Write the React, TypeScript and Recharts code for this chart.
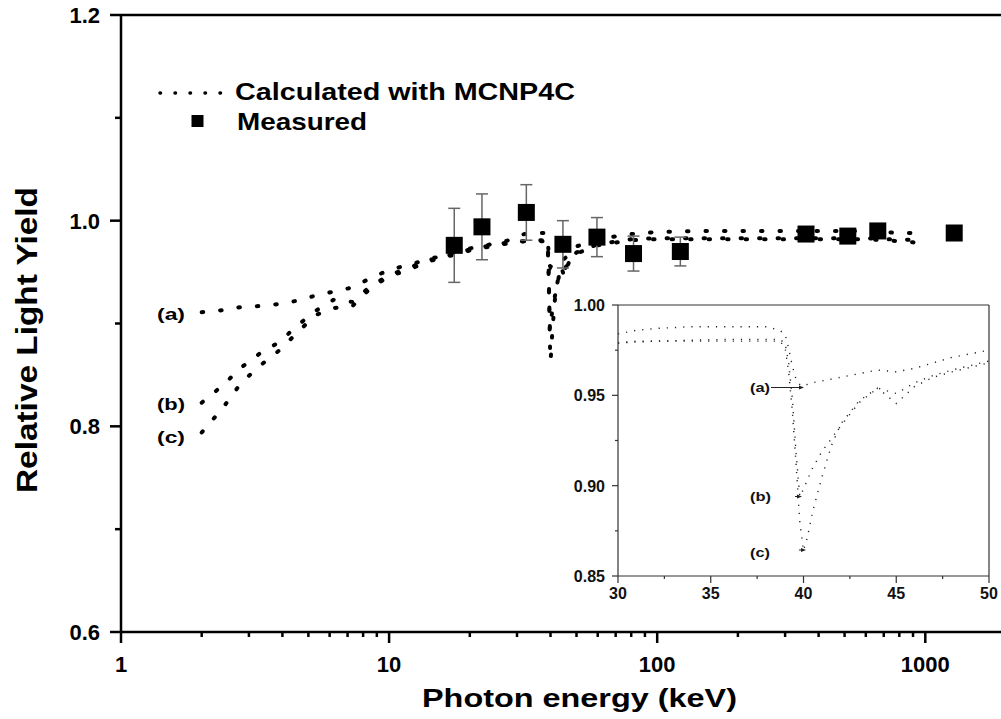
import React from 'react';
import { ComposedChart, LineChart, Line, Scatter, ErrorBar, XAxis, YAxis, ReferenceLine } from 'recharts';

const FONT = '"Liberation Sans", Arial, Helvetica, sans-serif';

// photon energies (keV) shared by the three MCNP4C curves
const ENERGY = [
  2, 2.4, 2.8, 3.3, 3.9, 4.5, 5.3, 6.2, 7.3, 8.5,
  10, 11.8, 13.8, 17, 20, 24, 28, 30, 31, 32,
  34, 36, 38, 38.7, 39, 39.2, 39.4, 39.6, 39.8, 40,
  40.2, 40.5, 41, 41.5, 42, 43, 44, 45, 46, 47,
  48, 50, 60, 80, 100, 150, 200, 300, 400, 500,
  600, 700, 800, 900, 1000,
];

// calculated relative light yield, curves (a), (b), (c)
const CURVE_A = [
  0.911, 0.913, 0.916, 0.917, 0.919, 0.922, 0.927, 0.931, 0.935, 0.944,
  0.952, 0.957, 0.962, 0.968, 0.973, 0.977, 0.981, 0.984, 0.986, 0.987,
  0.988, 0.988, 0.988, 0.986, 0.984, 0.976, 0.966, 0.959, 0.956, 0.955,
  0.956, 0.957, 0.958, 0.959, 0.96, 0.962, 0.964, 0.963, 0.965, 0.968,
  0.971, 0.975, 0.982, 0.987, 0.989, 0.99, 0.99, 0.99, 0.99, 0.99,
  0.99, 0.989, 0.988, 0.988, 0.987,
];
const CURVE_B = [
  0.823, 0.84, 0.857, 0.871, 0.882, 0.897, 0.912, 0.923, 0.921, 0.936,
  0.947, 0.954, 0.961, 0.967, 0.972, 0.976, 0.979, 0.979, 0.98, 0.98,
  0.9805, 0.981, 0.981, 0.981, 0.979, 0.968, 0.948, 0.918, 0.894, 0.898,
  0.903, 0.91, 0.919, 0.926, 0.933, 0.946, 0.954, 0.951, 0.957, 0.961,
  0.964, 0.969, 0.977, 0.982, 0.983, 0.983, 0.983, 0.983, 0.983, 0.983,
  0.983, 0.982, 0.982, 0.981, 0.98,
];
const CURVE_C = [
  0.794, 0.818, 0.842, 0.859, 0.874, 0.89, 0.908, 0.915, 0.917, 0.934,
  0.946, 0.952, 0.96, 0.966, 0.971, 0.975, 0.978, 0.979, 0.9795, 0.98,
  0.98, 0.98, 0.98, 0.98, 0.977, 0.963, 0.941, 0.912, 0.88, 0.864,
  0.871, 0.886, 0.905, 0.922, 0.934, 0.947, 0.954, 0.9455, 0.955, 0.96,
  0.963, 0.968, 0.976, 0.981, 0.982, 0.982, 0.982, 0.982, 0.982, 0.982,
  0.982, 0.981, 0.98, 0.979, 0.976,
];

// measured points
const MEAS_ENERGY = [17.5, 22.2, 32.5, 44.5, 59.6, 81.6, 122, 359, 514, 665, 1282];
const MEAS_YIELD = [0.976, 0.994, 1.008, 0.977, 0.984, 0.968, 0.97, 0.987, 0.985, 0.99, 0.988];
const MEAS_ERR = [0.036, 0.032, 0.027, 0.023, 0.019, 0.017, 0.014, 0.006, 0.006, 0.006, 0.006];

const MAIN_X_TICKS = [1, 2, 3, 4, 5, 6, 7, 8, 9, 10, 20, 30, 40, 50, 60, 70, 80, 90, 100, 200, 300, 400, 500, 600, 700, 800, 900, 1000, 2000];
const MAIN_X_LABELS = [1, 10, 100, 1000];
const MAIN_Y_TICKS = [0.6, 0.7, 0.8, 0.9, 1.0, 1.1, 1.2];
const MAIN_Y_LABELS = [0.6, 0.8, 1.0, 1.2];

const INSET_X_TICKS = [30, 32.5, 35, 37.5, 40, 42.5, 45, 47.5, 50];
const INSET_X_LABELS = [30, 35, 40, 45, 50];
const INSET_Y_TICKS = [0.85, 0.875, 0.9, 0.925, 0.95, 0.975, 1.0];
const INSET_Y_LABELS = [0.85, 0.9, 0.95, 1.0];

const curveData = ENERGY.map((e, i) => ({ e, a: CURVE_A[i], b: CURVE_B[i], c: CURVE_C[i] }));
const insetData = curveData.filter((d) => d.e >= 30 && d.e <= 50);
const measuredData = MEAS_ENERGY.map((e, i) => ({ e, y: MEAS_YIELD[i], err: MEAS_ERR[i] }));

const MainXTick = (props: any) => {
  const { x, y, payload } = props;
  const major = MAIN_X_LABELS.includes(payload.value);
  return (
    <g>
      <line x1={x} x2={x} y1={y} y2={y + (major ? 11 : 5)} stroke="#000" strokeWidth={2.5} />
      {major && (
        <text x={x} y={y + 40} textAnchor="middle" fontFamily={FONT} fontWeight="bold" fontSize={22} fill="#000">
          {payload.value}
        </text>
      )}
    </g>
  );
};

const MainYTick = (props: any) => {
  const { x, y, payload } = props;
  const major = MAIN_Y_LABELS.some((v) => Math.abs(v - payload.value) < 1e-6);
  return (
    <g>
      <line x1={x} x2={x - (major ? 11 : 6)} y1={y} y2={y} stroke="#000" strokeWidth={2.5} />
      {major && (
        <text x={x - 21} y={y + 8} textAnchor="end" fontFamily={FONT} fontWeight="bold" fontSize={22} fill="#000">
          {payload.value.toFixed(1)}
        </text>
      )}
    </g>
  );
};

const InsetXTick = (props: any) => {
  const { x, y, payload } = props;
  const major = INSET_X_LABELS.includes(payload.value);
  return (
    <g>
      <line x1={x} x2={x} y1={y} y2={y + (major ? 7 : 3)} stroke="#333" strokeWidth={1.2} />
      {major && (
        <text x={x} y={y + 23} textAnchor="middle" fontFamily={FONT} fontWeight="bold" fontSize={16} fill="#111">
          {payload.value}
        </text>
      )}
    </g>
  );
};

const InsetYTick = (props: any) => {
  const { x, y, payload } = props;
  const major = INSET_Y_LABELS.some((v) => Math.abs(v - payload.value) < 1e-6);
  return (
    <g>
      <line x1={x} x2={x - (major ? 6 : 3)} y1={y} y2={y} stroke="#333" strokeWidth={1.2} />
      {major && (
        <text x={x - 13} y={y + 6} textAnchor="end" fontFamily={FONT} fontWeight="bold" fontSize={16} fill="#111">
          {payload.value.toFixed(2)}
        </text>
      )}
    </g>
  );
};

const Square = (props: any) => {
  const { cx, cy } = props;
  return <rect x={cx - 8.5} y={cy - 8.5} width={17} height={17} fill="#000" />;
};

const mainDots = {
  stroke: '#000',
  strokeWidth: 4,
  strokeDasharray: '1.5 17',
  strokeLinecap: 'round' as const,
};

const insetDots = {
  stroke: '#222',
  strokeWidth: 1.4,
  strokeDasharray: '1.2 7',
};

export default function App() {
  return (
    <div style={{ position: 'absolute', left: 0, top: 0, width: 1001, height: 719, overflow: 'hidden', background: '#fff' }}>
      <div style={{ position: 'absolute', left: 0, top: 0 }}>
        <ComposedChart width={1010} height={719} data={curveData} margin={{ top: 15, right: 4, left: 0, bottom: 0 }}>
          <XAxis
            dataKey="e"
            type="number"
            scale="log"
            domain={[1, 2000]}
            ticks={MAIN_X_TICKS}
            interval={0}
            height={87}
            tickSize={0}
            tickMargin={0}
            tickLine={false}
            axisLine={{ stroke: '#000', strokeWidth: 2.5 }}
            tick={(p: any) => <MainXTick {...p} />}
          />
          <YAxis
            type="number"
            domain={[0.6, 1.2]}
            ticks={MAIN_Y_TICKS}
            interval={0}
            width={121}
            tickSize={0}
            tickMargin={0}
            tickLine={false}
            axisLine={{ stroke: '#000', strokeWidth: 2.5 }}
            tick={(p: any) => <MainYTick {...p} />}
          />
          <ReferenceLine y={1.2} stroke="#000" strokeWidth={2.5} />
          <Line dataKey="a" type="linear" dot={false} activeDot={false} isAnimationActive={false} {...mainDots} />
          <Line dataKey="b" type="linear" dot={false} activeDot={false} isAnimationActive={false} {...mainDots} />
          <Line dataKey="c" type="linear" dot={false} activeDot={false} isAnimationActive={false} {...mainDots} />
          <Scatter data={measuredData} dataKey="y" shape={<Square />} isAnimationActive={false}>
            <ErrorBar dataKey="err" direction="y" width={6} stroke="#666" strokeWidth={1.5} />
          </Scatter>
        </ComposedChart>
      </div>

      {/* inset: zoom on the K-edge region, 30-50 keV */}
      <div style={{ position: 'absolute', left: 568, top: 290 }}>
        <LineChart width={433} height={316} data={insetData} margin={{ top: 15, right: 12, left: 0, bottom: 0 }}>
          <XAxis
            dataKey="e"
            type="number"
            domain={[30, 50]}
            ticks={INSET_X_TICKS}
            interval={0}
            height={30}
            tickSize={0}
            tickMargin={0}
            tickLine={false}
            axisLine={{ stroke: '#333', strokeWidth: 1.2 }}
            tick={(p: any) => <InsetXTick {...p} />}
          />
          <YAxis
            type="number"
            domain={[0.85, 1.0]}
            ticks={INSET_Y_TICKS}
            interval={0}
            width={50}
            tickSize={0}
            tickMargin={0}
            tickLine={false}
            axisLine={{ stroke: '#333', strokeWidth: 1.2 }}
            tick={(p: any) => <InsetYTick {...p} />}
          />
          <ReferenceLine y={1.0} stroke="#333" strokeWidth={1.2} />
          <ReferenceLine x={50} stroke="#333" strokeWidth={1.2} />
          <Line dataKey="a" type="linear" dot={false} activeDot={false} isAnimationActive={false} {...insetDots} />
          <Line dataKey="b" type="linear" dot={false} activeDot={false} isAnimationActive={false} {...insetDots} />
          <Line dataKey="c" type="linear" dot={false} activeDot={false} isAnimationActive={false} {...insetDots} />
        </LineChart>
      </div>

      {/* titles, legend and curve labels */}
      <svg width={1001} height={719} style={{ position: 'absolute', left: 0, top: 0, pointerEvents: 'none' }}>
        <g fontFamily={FONT} fontWeight="bold" fill="#000">
          <text x={37} y={340} fontSize={30} textAnchor="middle" textLength={306} lengthAdjust="spacingAndGlyphs" transform="rotate(-90 37 340)">
            Relative Light Yield
          </text>
          <text x={422} y={707} fontSize={26} textLength={315} lengthAdjust="spacingAndGlyphs">
            Photon energy (keV)
          </text>

          <line x1={160} x2={222} y1={93} y2={93} stroke="#000" strokeWidth={3.5} strokeDasharray="0.5 14.5" strokeLinecap="round" />
          <text x={235} y={100} fontSize={24} textLength={340} lengthAdjust="spacingAndGlyphs">
            Calculated with MCNP4C
          </text>
          <rect x={191.5} y={115} width={12} height={12} fill="#000" />
          <text x={237} y={130} fontSize={24} textLength={130} lengthAdjust="spacingAndGlyphs">
            Measured
          </text>

          <text x={157} y={320} fontSize={17} textLength={28} lengthAdjust="spacingAndGlyphs">(a)</text>
          <text x={157} y={410} fontSize={17} textLength={28} lengthAdjust="spacingAndGlyphs">(b)</text>
          <text x={157} y={443} fontSize={17} textLength={28} lengthAdjust="spacingAndGlyphs">(c)</text>
        </g>
        <g fontFamily={FONT} fontWeight="bold" fill="#111">
          <text x={750} y={392} fontSize={13} textLength={20} lengthAdjust="spacingAndGlyphs">(a)</text>
          <text x={750} y={501} fontSize={13} textLength={21} lengthAdjust="spacingAndGlyphs">(b)</text>
          <text x={750} y={557} fontSize={13} textLength={20} lengthAdjust="spacingAndGlyphs">(c)</text>
          <line x1={771} x2={801} y1={387.5} y2={387.5} stroke="#222" strokeWidth={1} />
          <polygon points="804,387.5 799,385.5 799,389.5" fill="#222" />
          <line x1={795} x2={799} y1={496.5} y2={496.5} stroke="#222" strokeWidth={1} />
          <polygon points="802,496.5 797,494.5 797,498.5" fill="#222" />
          <line x1={799} x2={803} y1={550} y2={550} stroke="#222" strokeWidth={1} />
          <polygon points="806,550 801,548 801,552" fill="#222" />
        </g>
      </svg>
    </div>
  );
}
